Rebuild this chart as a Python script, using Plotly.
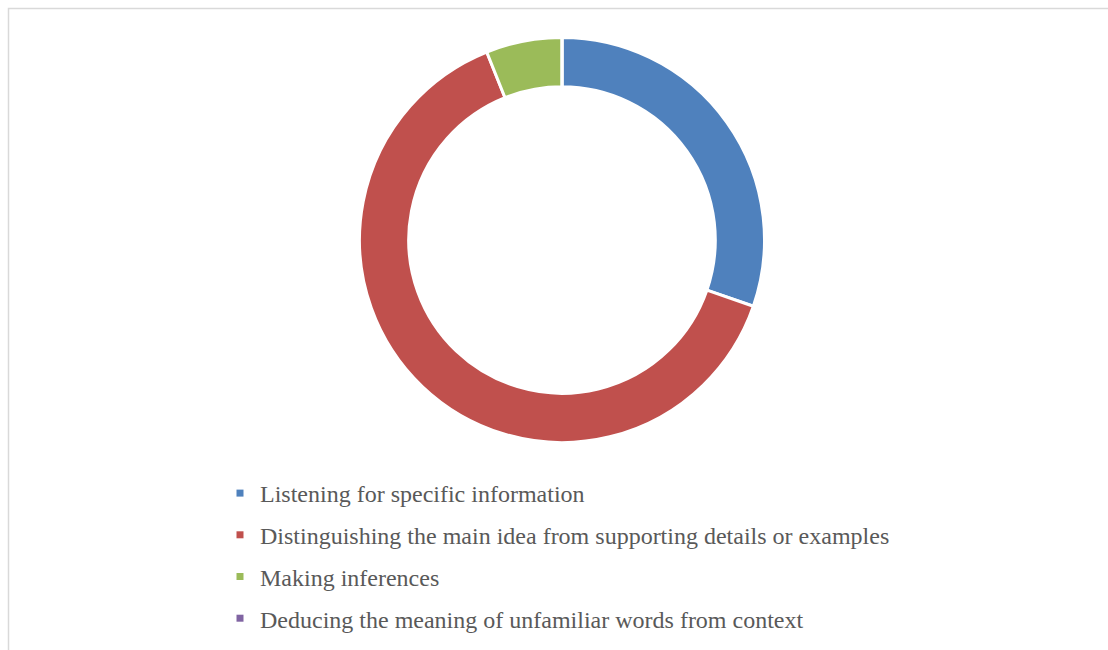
import plotly.graph_objects as go

labels = [
    "Listening for specific information",
    "Distinguishing the main idea from supporting details or examples",
    "Making inferences",
    "Deducing the meaning of unfamiliar words from context",
]
values = [10, 21, 2, 0]
colors = ["#4F81BD", "#C0504D", "#9BBB59", "#8064A2"]

W, H = 1108, 650
cx, cy, r = 562, 240, 202.5

fig = go.Figure()
fig.add_trace(go.Pie(
    labels=labels, values=values, hole=0.757, sort=False, direction="clockwise",
    rotation=0, textinfo="none", hoverinfo="label+value+percent",
    marker=dict(colors=colors, line=dict(color="white", width=3)),
    domain=dict(x=[(cx - r) / W, (cx + r) / W], y=[(H - cy - r) / H, (H - cy + r) / H]),
    showlegend=False,
))
for i, (lab, col) in enumerate(zip(labels, colors)):
    fig.add_trace(go.Scatter(
        x=[None], y=[None], mode="markers", name=lab, legendgroup=f"g{i}",
        marker=dict(symbol="square", size=7, color=col), showlegend=True,
    ))

fig.update_layout(
    width=W, height=H, margin=dict(l=0, r=0, t=0, b=0),
    paper_bgcolor="white", plot_bgcolor="white",
    xaxis=dict(visible=False), yaxis=dict(visible=False),
    legend=dict(
        x=220 / W, xanchor="left", y=(H - 471) / H, yanchor="top",
        font=dict(family="Times New Roman, Liberation Serif, serif", size=24, color="#595959"),
        tracegroupgap=7.5, bgcolor="rgba(0,0,0,0)", itemclick=False,
    ),
    shapes=[dict(type="rect", xref="paper", yref="paper",
                 x0=8.5 / W, x1=1.02, y0=-0.02, y1=(H - 8.5) / H,
                 line=dict(color="#D9D9D9", width=1.5), layer="below")],
)
fig.write_html("out.html")
